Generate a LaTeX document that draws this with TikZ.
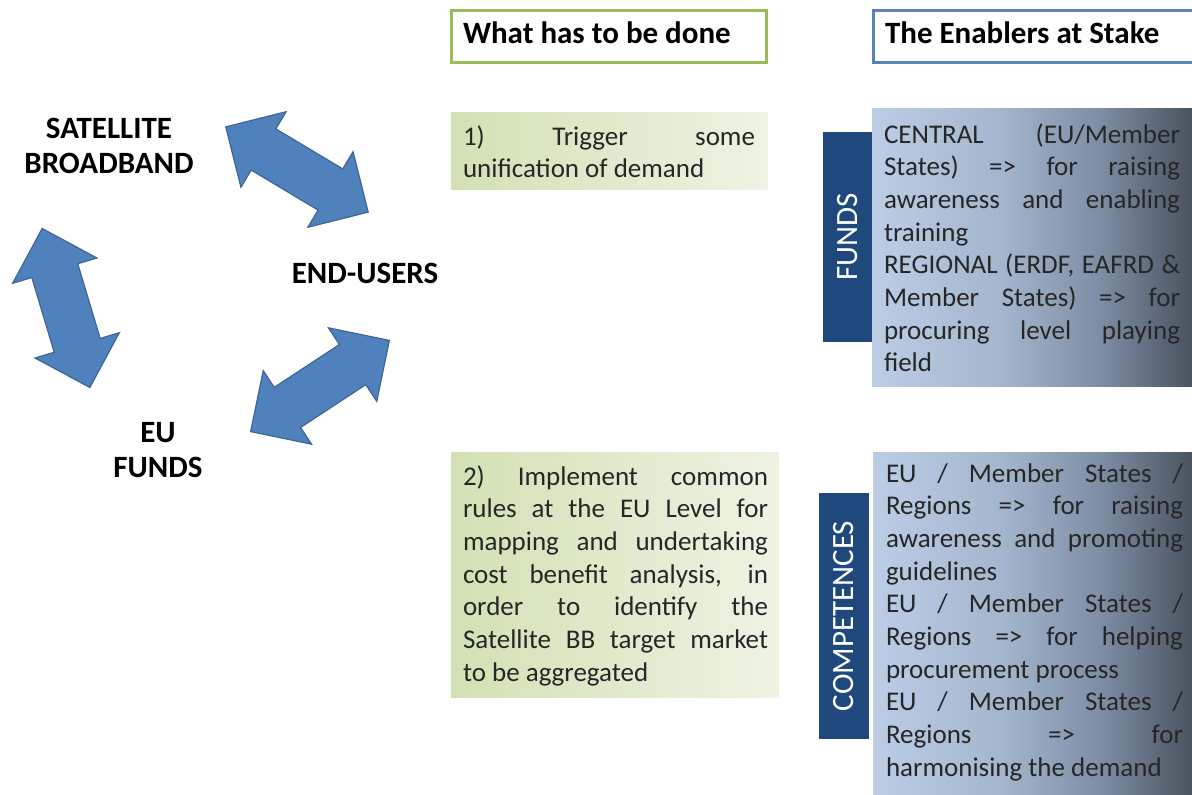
\documentclass[tikz,border=0pt]{standalone}
\usepackage{fontspec}
\setmainfont{Carlito}
\definecolor{arrowfill}{HTML}{4F81BD}
\definecolor{arrowline}{HTML}{3E6699}
\definecolor{hdgreen}{HTML}{9BBB59}
\definecolor{hdblue}{HTML}{5B83B5}
\definecolor{greenA}{HTML}{D2E1B4}
\definecolor{greenB}{HTML}{EEF3E3}
\definecolor{tabblue}{HTML}{1F497D}
\definecolor{textgray}{HTML}{262626}
\definecolor{blueA}{HTML}{BBCEE5}
\definecolor{blueB}{HTML}{A3B6CC}
\definecolor{blueC}{HTML}{7E8FA5}
\definecolor{blueD}{HTML}{48515D}
\pgfdeclarehorizontalshading{bluefade}{100bp}{color(0bp)=(blueA); color(25bp)=(blueA); color(45bp)=(blueB); color(60bp)=(blueC); color(75bp)=(blueD); color(100bp)=(blueD)}
\newcommand\nohyph{\hyphenpenalty=10000\relax\exhyphenpenalty=10000\relax\tolerance=10000\relax}
\tikzset{
  every node/.style={inner sep=0pt, outer sep=0pt},
  arrowbody/.style={fill=arrowfill, draw=arrowline, line width=1.2pt, line join=miter},
  dblarrow/.pic={\path[arrowbody] (-83,0) -- (-39,44) -- (-39,24) -- (39,24) -- (39,44)
      -- (83,0) -- (39,-44) -- (39,-24) -- (-39,-24) -- (-39,-44) -- cycle;},
  label/.style={font=\fontsize{31}{35}\selectfont\bfseries, align=center, text=black},
  header/.style={draw, line width=3pt, fill=white, anchor=north west},
  headtext/.style={font=\fontsize{31}{36}\selectfont\bfseries, anchor=base west, text=black},
  greenbox/.style={anchor=north west, shading angle=60, left color=greenA, right color=greenB},
  bluebox/.style={anchor=north west, shading=bluefade},
  tab/.style={fill=tabblue, text=white, rotate=90, font=\fontsize{31}{36}\selectfont},
  body/.style={font=\fontsize{27}{32.7}\selectfont\nohyph,
      text=textgray, anchor=base west, align=justify}
}
\begin{document}
\begin{tikzpicture}[x=1pt, y=-1pt]
\useasboundingbox (0,0) rectangle (1192,795);

% circle of relations
\node[label] (sat) at (109,146) {SATELLITE\\BROADBAND};
\node[label, anchor=base] (users) at (365,283) {END-USERS};
\node[label] (eufunds) at (158,450) {EU\\FUNDS};
\pic[rotate=-30.9] at (297,169.5) {dblarrow};
\pic[rotate=-73.3] at (66,308) {dblarrow};
\pic[rotate=33.3] at (320,386) {dblarrow};

% column headers
\node[header, draw=hdgreen, minimum width=315, minimum height=52] (hdone) at (451,10) {};
\node[headtext] (hdonetxt) at (463,43) {What has to be done};
\node[header, draw=hdblue, minimum width=330, minimum height=52] (henab) at (873,10) {};
\node[headtext] (henabtxt) at (885,43) {The Enablers at Stake};

% what has to be done
\node[greenbox, minimum width=317, minimum height=77] (act1) at (451,112) {};
\node[body, text width=292] (act1txt) at (463,145)
  {1) Trigger some\linebreak unification of demand};
\node[greenbox, minimum width=328, minimum height=245] (act2) at (451,452) {};
\node[body, text width=305] (act2txt) at (463,485)
  {2) Implement common\linebreak rules at the EU Level for\linebreak mapping and undertaking\linebreak
   cost benefit analysis, in\linebreak order to identify the\linebreak Satellite BB target market\linebreak to be aggregated};

% enablers
\node[bluebox, minimum width=323, minimum height=278] (funds) at (872,108) {};
\node[tab, minimum width=210, minimum height=49] (fundstab) at (847.5,237) {FUNDS};
\node[body, text width=296] (fundstxt) at (884,143)
  {CENTRAL (EU/Member\linebreak States) => for raising\linebreak awareness and enabling\linebreak training\newline
   REGIONAL (ERDF, EAFRD \&\linebreak Member States) => for\linebreak procuring level playing\linebreak field};
\node[bluebox, minimum width=323, minimum height=350] (comp) at (873,452) {};
\node[tab, minimum width=246, minimum height=50] (comptab) at (844,616) {COMPETENCES};
\node[body, text width=297] (comptxt) at (886,482)
  {EU / Member States /\linebreak Regions => for raising\linebreak awareness and promoting\linebreak guidelines\newline
   EU / Member States /\linebreak Regions => for helping\linebreak procurement process\newline
   EU / Member States /\linebreak Regions => for\linebreak harmonising the demand};
\end{tikzpicture}
\end{document}
